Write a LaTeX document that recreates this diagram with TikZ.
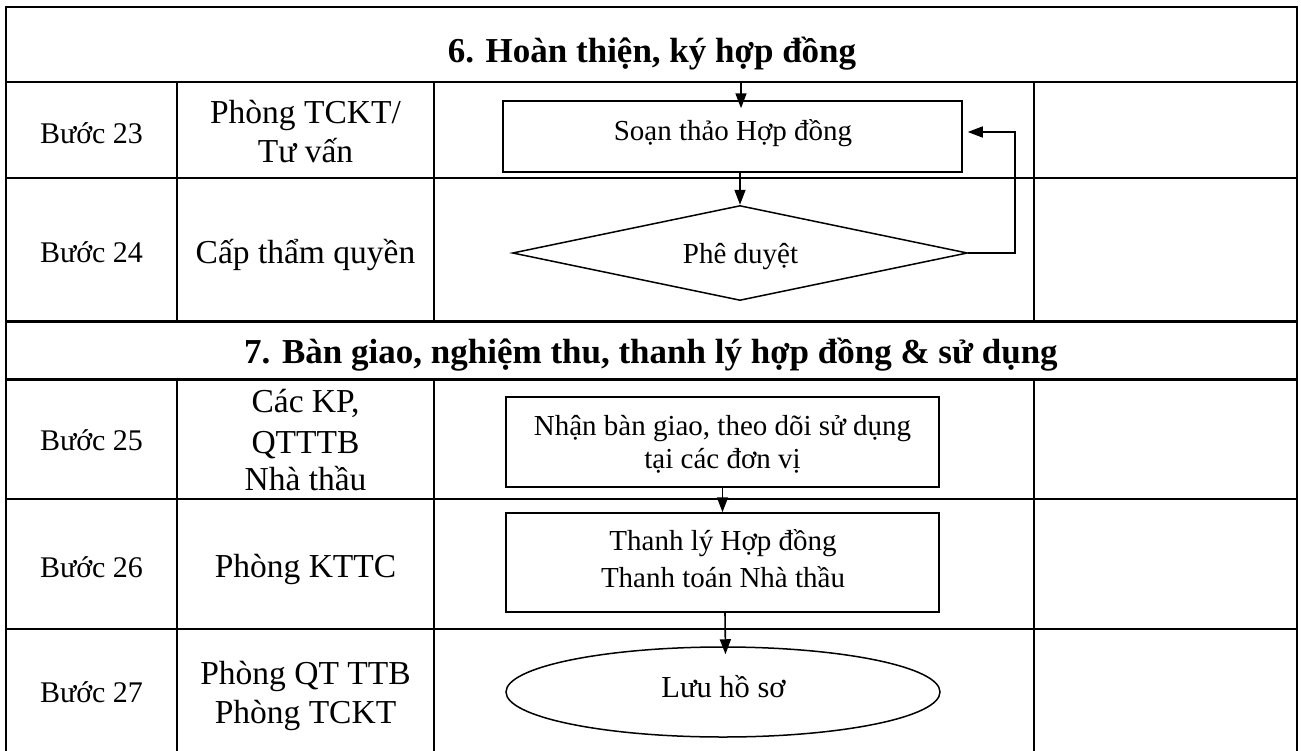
\documentclass[tikz,border=0pt]{standalone}
\usepackage{fontspec}
\setmainfont{Liberation Serif}
\usetikzlibrary{shapes.geometric,arrows.meta}
\tikzset{
  tablerule/.style={line width=2.2pt},
  box/.style={draw, line width=1.5pt, inner sep=0pt},
  flow/.style={line width=1.6pt, -{Triangle[length=15pt,width=11pt]}},
  colA/.style={font=\fontsize{30}{36}\selectfont, anchor=base, inner sep=0pt},
  colB/.style={font=\fontsize{33.5}{40}\selectfont, anchor=base, inner sep=0pt},
  boxtxt/.style={font=\fontsize{29}{35}\selectfont, anchor=base, inner sep=0pt},
  bigtxt/.style={font=\fontsize{30.5}{36}\selectfont, anchor=base, inner sep=0pt},
  head/.style={font=\fontsize{35}{42}\selectfont\bfseries, anchor=base, inner sep=0pt},
}
\begin{document}
\begin{tikzpicture}[x=1pt,y=-1pt]
\useasboundingbox (0,0) rectangle (1301,750);
\fill[white] (0,0) rectangle (1301,750);

% table frame and rules
\draw[tablerule] (6,752) -- (6,7) -- (1297,7) -- (1297,752);
\foreach \yy in {82,178,321.5,379.5,499,629}
  \draw[tablerule] (6,\yy) -- (1297,\yy);
\foreach \xx in {177,434,1034} {
  \draw[tablerule] (\xx,82) -- (\xx,321.5);
  \draw[tablerule] (\xx,379.5) -- (\xx,752);
}

% headers
\node[head] (h6) at (652,62) {6. Hoàn thiện, ký hợp đồng};
\node[head] (h7) at (651,363) {7. Bàn giao, nghiệm thu, thanh lý hợp đồng \& sử dụng};

% step column
\node[colA] (s23) at (91.5,143) {Bước 23};
\node[colA] (s24) at (91.5,262) {Bước 24};
\node[colA] (s25) at (91.5,450) {Bước 25};
\node[colA] (s26) at (91.5,577) {Bước 26};
\node[colA] (s27) at (91.5,702) {Bước 27};

% responsible column
\node[colB] (r23a) at (305.5,123) {Phòng TCKT/};
\node[colB] (r23b) at (305.5,162) {Tư vấn};
\node[colB] (r24) at (305.5,263) {Cấp thẩm quyền};
\node[colB] (r25a) at (305.5,412) {Các KP,};
\node[colB] (r25b) at (305.5,453) {QTTTB};
\node[colB] (r25c) at (305.5,490) {Nhà thầu};
\node[colB] (r26) at (305.5,577) {Phòng KTTC};
\node[colB] (r27a) at (305.5,684) {Phòng QT TTB};
\node[colB] (r27b) at (305.5,723) {Phòng TCKT};

% flow shapes
\node[box, minimum width=459pt, minimum height=71pt] (draft) at (732.5,136.5) {};
\node[box, diamond, minimum width=455pt, minimum height=95pt] (approve) at (740,253) {};
\node[box, minimum width=433pt, minimum height=90pt] (handover) at (722.5,442) {};
\node[box, minimum width=433pt, minimum height=99pt] (settle) at (722.5,562.5) {};
\node[box, ellipse, minimum width=434pt, minimum height=90pt] (archive) at (723,692) {};

% flow texts
\node[boxtxt] (t1) at (733,140) {Soạn thảo Hợp đồng};
\node[boxtxt] (t2) at (740.5,263) {Phê duyệt};
\node[boxtxt] (t3a) at (722.5,435) {Nhận bàn giao, theo dõi sử dụng};
\node[boxtxt] (t3b) at (722.5,468) {tại các đơn vị};
\node[boxtxt] (t4a) at (723,550) {Thanh lý Hợp đồng};
\node[boxtxt] (t4b) at (723,587) {Thanh toán Nhà thầu};
\node[bigtxt] (t5) at (723.5,697) {Lưu hồ sơ};

% connectors
\coordinate (in1) at (741,82);
\draw[flow] (in1) -- ([yshift=-8pt]in1 |- draft.north);
\draw[flow] (approve.north |- draft.south) -- (approve.north);
\draw[flow] (approve.east) -- ++(47,0) |- ([xshift=5pt,yshift=4.5pt]draft.east);
\draw[flow] (handover.south) -- (settle.north);
\draw[flow] ([xshift=2.5pt]settle.south) -- ([xshift=2.5pt,yshift=-8pt]archive.north);
\end{tikzpicture}
\end{document}
